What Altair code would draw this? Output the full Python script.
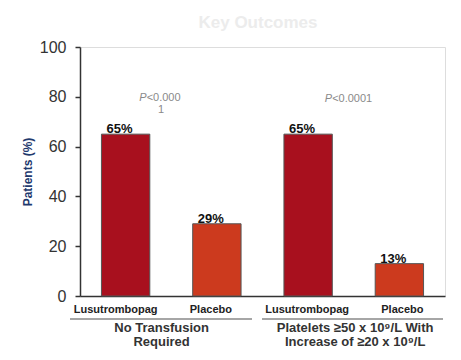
import altair as alt
import pandas as pd

# ---- data ----
title_text = "Key Outcomes"
groups = ["No Transfusion\nRequired", "Platelets ≥50 x 10⁹/L With\nIncrease of ≥20 x 10⁹/L"]
treatments = ["Lusutrombopag", "Placebo"]
values_g1 = [65, 29]
values_g2 = [65, 13]
p_line1 = ["<0.000", "<0.0001"]
p_line2 = ["1", ""]
bar_colors = ["#a8101e", "#cc3a1e"]
y_ticks = [0, 20, 40, 60, 80, 100]

FONT = "Liberation Sans"

rows = []
for gi, vals in enumerate([values_g1, values_g2]):
    for ti, t in enumerate(treatments):
        rows.append({"key": f"{gi}|{t}", "group": groups[gi], "treatment": t,
                     "value": vals[ti], "label": f"{vals[ti]}%"})
df = pd.DataFrame(rows)
order = list(df["key"])

grp_df = pd.DataFrame({"key": [f"{gi}|{treatments[0]}" for gi in range(len(groups))],
                       "group": groups, "p1": p_line1, "p2": p_line2, "P": ["P", "P"]})

label_shift = alt.ExprRef(
    "datum.value == '0|Lusutrombopag' ? -10 : datum.value == '0|Placebo' ? -6 : "
    "datum.value == '1|Lusutrombopag' ? -1 : 3")

x_enc = alt.X("key:N", sort=order,
              scale=alt.Scale(paddingInner=0.47, paddingOuter=0.235),
              axis=alt.Axis(title=None, labelExpr="split(datum.label, '|')[1]", labelAngle=0,
                            ticks=False, labelFontSize=11, labelFontWeight="bold",
                            labelColor="#222", labelPadding=7, labelFont=FONT,
                            labelOffset=label_shift,
                            domainColor="#333", domainWidth=1.5))
x_plain = alt.X("key:N", sort=order)

y_enc = alt.Y("value:Q", scale=alt.Scale(domain=[0, 100]),
              axis=alt.Axis(values=y_ticks, grid=False, tickSize=5, tickColor="#333",
                            tickWidth=1.5, labelFontSize=16, labelPadding=9,
                            labelColor="#333", labelFont=FONT,
                            domainColor="#333", domainWidth=1.5,
                            title="Patients (%)", titleFontSize=12, titleFont=FONT,
                            titleColor="#1f3a6e", titleFontWeight="bold",
                            titleX=-53, titleY=124.5, titleBaseline="middle",
                            titleAlign="center"))

bars = alt.Chart(df).mark_bar(stroke="#555", strokeWidth=1).encode(
    x=x_enc, y=y_enc,
    color=alt.Color("treatment:N", scale=alt.Scale(domain=treatments, range=bar_colors), legend=None),
)

bar_labels = alt.Chart(df).mark_text(fontSize=13, fontWeight="bold", font=FONT, color="#111",
                                     baseline="alphabetic", dy=-1, dx=-6).encode(
    x=x_plain, y=alt.Y("value:Q"), text="label:N")

layers = [bars, bar_labels]

one = pd.DataFrame({"t": [title_text]})
# title
layers.append(alt.Chart(one).mark_text(fontSize=17, font=FONT, fontWeight="bold", color="#ececec",
                                       baseline="alphabetic", align="center").encode(
    x=alt.value(178), y=alt.value(-19), text="t:N"))
# group underlines
for x1, x2 in [(-10, 172), (182, 363)]:
    layers.append(alt.Chart(one).mark_rule(stroke="#888", strokeWidth=1.5).encode(
        x=alt.value(x1), x2=alt.value(x2), y=alt.value(272)))

group_dx = [36, 47]
p_dx = [21, 24]
p2_dx = [35.5, 0]
p_y = [51, 52]
for gi in range(len(groups)):
    gdf = grp_df.iloc[[gi]]
    layers.append(alt.Chart(gdf).mark_text(fontSize=13, fontWeight="bold", font=FONT, color="#333",
                                           baseline="top", lineBreak="\n", lineHeight=14,
                                           dx=group_dx[gi]).encode(
        x=x_plain, y=alt.value(275), text="group:N"))
    layers.append(alt.Chart(gdf).mark_text(fontSize=11, font=FONT, fontStyle="italic", color="#8a8a8a",
                                           align="right", baseline="middle", dx=p_dx[gi]).encode(
        x=x_plain, y=alt.value(p_y[gi]), text="P:N"))
    layers.append(alt.Chart(gdf).mark_text(fontSize=11, font=FONT, color="#8a8a8a",
                                           align="left", baseline="middle", dx=p_dx[gi]).encode(
        x=x_plain, y=alt.value(p_y[gi]), text="p1:N"))
    if p_line2[gi]:
        layers.append(alt.Chart(gdf).mark_text(fontSize=11, font=FONT, color="#8a8a8a",
                                               align="center", baseline="middle", dx=p2_dx[gi]).encode(
            x=x_plain, y=alt.value(p_y[gi] + 12), text="p2:N"))

chart = alt.layer(*layers).properties(
    width=365, height=249,
    padding={"left": 72, "top": 39, "right": 8, "bottom": 60},
    autosize=alt.AutoSizeParams(type="none"),
).configure_view(stroke=None).configure(background="white")

chart.save("out.html", embed_options={"renderer": "svg", "actions": False})
